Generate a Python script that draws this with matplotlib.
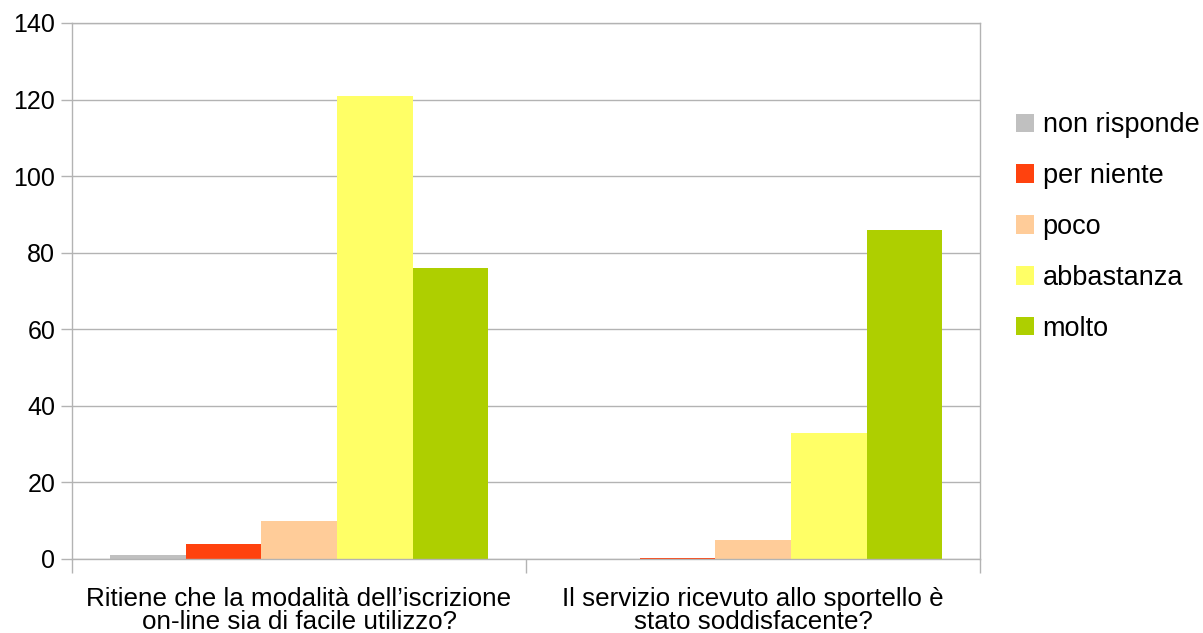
import matplotlib
matplotlib.use("Agg")
import matplotlib.pyplot as plt
import numpy as np

plt.rcParams['font.family'] = ['Liberation Sans', 'DejaVu Sans']

# domande (categorie sull'asse x)
domande = ["Ritiene che la modalità dell’iscrizione\non-line sia di facile utilizzo?",
           "Il servizio ricevuto allo sportello è\nstato soddisfacente?"]

# risposte (serie)
risposte = ["non risponde", "per niente", "poco", "abbastanza", "molto"]
colori = ["#c0c0c0", "#ff420e", "#ffcc99", "#ffff66", "#aecf00"]

non_risponde = [1, 0]
per_niente = [4, 0.3]
poco = [10, 5]
abbastanza = [121, 33]
molto = [76, 86]

valori = [non_risponde, per_niente, poco, abbastanza, molto]

fig = plt.figure(figsize=(12.03, 6.33), dpi=100)
ax = fig.add_axes([72 / 1203, 1 - 559 / 633, (980 - 72) / 1203, (559 - 23) / 633])

x = np.arange(len(domande))
w = 1 / 6
for k, serie in enumerate(valori):
    ax.bar(x + (k - 2) * w, serie, width=w, color=colori[k], label=risposte[k], zorder=2)

grigio = "#b3b3b3"
ax.set_xlim(-0.5, 1.5)
ax.set_ylim(0, 140)
ax.set_yticks(range(0, 141, 20))
ax.yaxis.grid(True, color=grigio, linewidth=1, zorder=0)
ax.set_xticks([-0.5, 0.5, 1.5])
ax.set_xticklabels([])
ax.set_xticks(x, minor=True)
ax.set_xticklabels(domande, minor=True, fontsize=18.7, linespacing=0.95)
ax.tick_params(axis="x", which="major", length=10, color=grigio, width=1)
ax.tick_params(axis="x", which="minor", length=0, pad=20)
ax.tick_params(axis="y", length=8, color=grigio, width=1, labelsize=18, pad=4)
for s in ax.spines.values():
    s.set_color(grigio)
    s.set_linewidth(1)

fig.legend(loc="center left", bbox_to_anchor=(1005 / 1203, 1 - 227 / 633),
           frameon=False, fontsize=19.5, handlelength=0.66, handleheight=0.66,
           handletextpad=0.33, labelspacing=0.92, borderaxespad=0)

fig.savefig("out.png", dpi=100)
